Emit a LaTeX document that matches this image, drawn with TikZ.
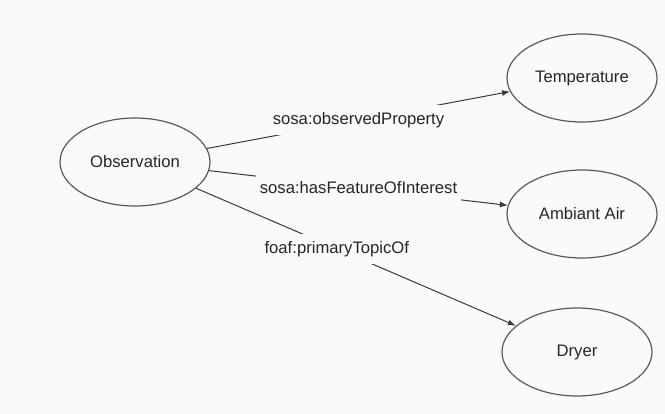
\documentclass[tikz,border=0pt]{standalone}
\usepackage{fontspec}
\setmainfont{Liberation Sans}
\usepackage{xcolor}
\usetikzlibrary{arrows.meta}
\usetikzlibrary{shapes.geometric}
\definecolor{paper}{HTML}{FAFAFA}
\definecolor{edgegray}{HTML}{3A3A3A}
\definecolor{rimgray}{HTML}{5A5A5A}
\tikzset{
	concept/.style={ellipse, draw=rimgray, line width=0.9pt, minimum width=112.5pt, minimum height=66pt, inner sep=0pt, font=\fontsize{12.5}{15}\selectfont, text=black!85},
	relation/.style={draw=edgegray, line width=0.75pt, -{Latex[length=6pt,width=4.5pt]}},
	predicate/.style={fill=paper, inner xsep=3pt, inner ysep=5.5pt, font=\fontsize{12.5}{15}\selectfont, text=black!85}
}

\begin{document}
\begin{tikzpicture}[x=0.75pt, y=-0.75pt]
		\fill[paper] (0,0) rectangle (665,414);
		\useasboundingbox (0,0) rectangle (665,414);
		
		\node[concept] (obs) at (135,162) {Observation};
		\node[concept] (temp) at (582,78) {Temperature};
		\node[concept] (air) at (582,214) {Ambiant Air};
		\node[concept] (dryer) at (577,352) {Dryer};
		
		\draw[relation] (obs) -- (temp) node[midway, predicate] {sosa:observedProperty};
		\draw[relation] (obs) -- (air) node[midway, predicate] {sosa:hasFeatureOfInterest};
		\draw[relation] (obs) -- (dryer) node[pos=0.44, predicate] {foaf:primaryTopicOf};
	\end{tikzpicture}
\end{document}
